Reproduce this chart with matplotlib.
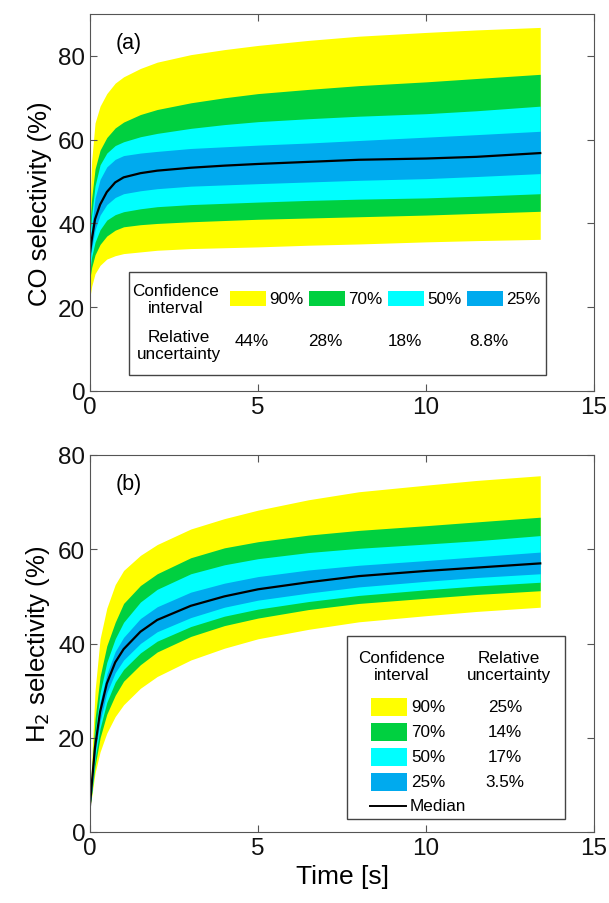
import numpy as np
import matplotlib
matplotlib.use("Agg")
import matplotlib.pyplot as plt
from matplotlib.patches import Rectangle
from matplotlib.lines import Line2D

plt.rcParams['font.family'] = ['Liberation Sans', 'DejaVu Sans']

# time samples (s), shared by both panels
t = [0, 0.05, 0.15, 0.3, 0.5, 0.75, 1, 1.5, 2, 3, 4, 5, 6.5, 8, 10, 11.5, 13.4]

# (a) CO selectivity: median and band limits (%)
co_med = [33, 36, 41, 44.5, 47.5, 49.8, 51, 52, 52.6, 53.3, 53.8, 54.2, 54.7, 55.2, 55.5, 55.9, 56.8]
co_90_hi = [44, 55, 64, 68, 71, 73.5, 75, 77, 78.5, 80.3, 81.5, 82.5, 83.7, 84.7, 85.6, 86.2, 86.8]
co_70_hi = [40, 46, 53, 57.5, 60.5, 62.8, 64.2, 66, 67.2, 68.8, 70, 71, 72, 72.9, 73.8, 74.6, 75.6]
co_50_hi = [37, 42, 49, 54, 56.8, 58.6, 59.5, 60.7, 61.5, 62.7, 63.6, 64.3, 65, 65.6, 66.2, 66.9, 68]
co_25_hi = [35, 39, 46, 50.5, 53.5, 55.3, 56.2, 56.8, 57.2, 57.9, 58.3, 58.7, 59.2, 59.8, 60.6, 61.2, 62]
co_25_lo = [31, 34, 38.5, 42, 44.5, 46.2, 47.1, 47.8, 48.3, 48.9, 49.2, 49.5, 49.9, 50.3, 50.7, 51.2, 51.9]
co_50_lo = [29, 32, 35.5, 38.5, 40.8, 42.1, 42.8, 43.5, 44, 44.5, 44.8, 45.1, 45.5, 45.8, 46.1, 46.5, 47.1]
co_70_lo = [27, 29.5, 32.5, 35, 37, 38.4, 39.2, 39.7, 40, 40.4, 40.7, 41, 41.3, 41.6, 42, 42.4, 42.9]
co_90_lo = [22.5, 25, 28, 30, 31.5, 32.3, 32.8, 33.2, 33.6, 34, 34.2, 34.4, 34.8, 35.1, 35.6, 35.9, 36.2]

# (b) H2 selectivity: median and band limits (%)
h2_med = [5.7, 10, 18, 25.5, 31.5, 36, 38.8, 42.5, 45, 48, 50, 51.5, 53, 54.3, 55.4, 56.1, 57]
h2_90_hi = [6, 15, 30, 41, 47.5, 52.5, 55.5, 58.7, 61, 64.3, 66.5, 68.3, 70.5, 72.2, 73.6, 74.6, 75.6]
h2_70_hi = [6, 12.5, 24, 33, 39.5, 44.5, 48.5, 52.3, 54.8, 58.2, 60.3, 61.6, 63, 64, 65, 65.8, 66.8]
h2_50_hi = [6, 11.5, 21, 29.5, 36, 41, 44.5, 48.8, 51.5, 54.8, 56.7, 58, 59.3, 60.2, 61.1, 61.8, 62.9]
h2_25_hi = [6, 11, 19.5, 27.5, 33.5, 38.3, 41.3, 45.3, 47.8, 50.9, 52.8, 54.2, 55.6, 56.6, 57.6, 58.4, 59.4]
h2_25_lo = [5.5, 9, 16.5, 23.5, 29.5, 33.8, 36.5, 40, 42.5, 45.5, 47.7, 49.2, 50.7, 52, 53.2, 54, 54.8]
h2_50_lo = [5.5, 8.5, 15.5, 22, 27.5, 31.8, 34.5, 38, 40.5, 43.6, 45.8, 47.3, 48.9, 50.2, 51.4, 52.2, 53]
h2_70_lo = [5.5, 8, 14, 20, 25, 29, 32, 35.5, 38.2, 41.5, 43.8, 45.4, 47.2, 48.5, 49.6, 50.4, 51.2]
h2_90_lo = [5.5, 7.5, 12.5, 17, 21, 24.5, 27, 30.5, 33, 36.5, 39, 41, 43, 44.6, 45.9, 46.8, 47.7]

levels = ['90%', '70%', '50%', '25%']
colors = ['#ffff00', '#00d040', '#00ffff', '#00aaee']
co_unc = ['44%', '28%', '18%', '8.8%']
h2_unc = ['25%', '14%', '17%', '3.5%']

W, H = 609, 904
fig = plt.figure(figsize=(W / 100, H / 100), dpi=100)


def fx(px):
    return px / W


def fy(py):
    return 1 - py / H


def panel(ax, lo, hi, med, ylim, yticks, label, tag):
    for l, h, c in zip(lo, hi, colors):
        ax.fill_between(t, l, h, color=c, lw=0)
    ax.plot(t, med, color='k', lw=1.6)
    ax.set_xlim(0, 15)
    ax.set_ylim(*ylim)
    ax.set_xticks([0, 5, 10, 15])
    ax.set_yticks(yticks)
    ax.tick_params(direction='in', top=True, right=True, labelsize=17.5,
                   length=5, color='#555555', labelcolor='#111111')
    for s in ax.spines.values():
        s.set_color('#555555')
        s.set_linewidth(0.8)
    ax.set_ylabel(label, fontsize=18.5, labelpad=4)
    ax.text(0.05, 0.925, tag, transform=ax.transAxes, fontsize=15.5, va='center')


ax1 = fig.add_axes([fx(90), fy(392), fx(594) - fx(90), fy(15) - fy(392)])
panel(ax1, [co_90_lo, co_70_lo, co_50_lo, co_25_lo], [co_90_hi, co_70_hi, co_50_hi, co_25_hi],
      co_med, (0, 90), [0, 20, 40, 60, 80], 'CO selectivity (%)', '(a)')

ax2 = fig.add_axes([fx(90), fy(833), fx(594) - fx(90), fy(456) - fy(833)])
panel(ax2, [h2_90_lo, h2_70_lo, h2_50_lo, h2_25_lo], [h2_90_hi, h2_70_hi, h2_50_hi, h2_25_hi],
      h2_med, (0, 80), [0, 20, 40, 60, 80], 'H$_2$ selectivity (%)', '(b)')
ax2.set_xlabel('Time [s]', fontsize=19, labelpad=4)

# legend box for (a), drawn by hand in figure pixels
fs = 12.3
fig.add_artist(Rectangle((fx(129), fy(376)), fx(546) - fx(129), fy(273) - fy(376),
                         transform=fig.transFigure, fc='white', ec='#444444', lw=1))
fig.text(fx(176), fy(300), 'Confidence\ninterval', ha='center', va='center', fontsize=fs,
         linespacing=1.15)
fig.text(fx(179), fy(346), 'Relative\nuncertainty', ha='center', va='center', fontsize=fs,
         linespacing=1.15)
for i, (lev, c, u) in enumerate(zip(levels, colors, co_unc)):
    x0 = 230 + 79 * i
    fig.add_artist(Rectangle((fx(x0), fy(307)), fx(36), fy(292) - fy(307),
                             transform=fig.transFigure, fc=c, ec='none'))
    fig.text(fx(x0 + 39), fy(300), lev, ha='left', va='center', fontsize=fs)
    fig.text(fx([252, 325, 405, 489][i]), fy(341), u, ha='center', va='center', fontsize=fs)

# legend box for (b)
fig.add_artist(Rectangle((fx(347), fy(820)), fx(565) - fx(347), fy(637) - fy(820),
                         transform=fig.transFigure, fc='white', ec='#444444', lw=1))
fig.text(fx(402), fy(667), 'Confidence\ninterval', ha='center', va='center', fontsize=fs,
         linespacing=1.15)
fig.text(fx(509), fy(667), 'Relative\nuncertainty', ha='center', va='center', fontsize=fs,
         linespacing=1.15)
for i, (lev, c, u) in enumerate(zip(levels, colors, h2_unc)):
    yc = 708 + 25 * i
    fig.add_artist(Rectangle((fx(371), fy(yc + 9)), fx(36), fy(yc - 9) - fy(yc + 9),
                             transform=fig.transFigure, fc=c, ec='none'))
    fig.text(fx(411), fy(yc), lev, ha='left', va='center', fontsize=fs)
    fig.text(fx(505), fy(yc), u, ha='center', va='center', fontsize=fs)
fig.add_artist(Line2D([fx(370), fx(406)], [fy(807), fy(807)], transform=fig.transFigure,
                      color='k', lw=1.4))
fig.text(fx(410), fy(807), 'Median', ha='left', va='center', fontsize=fs)

fig.savefig('out.png', dpi=100)
